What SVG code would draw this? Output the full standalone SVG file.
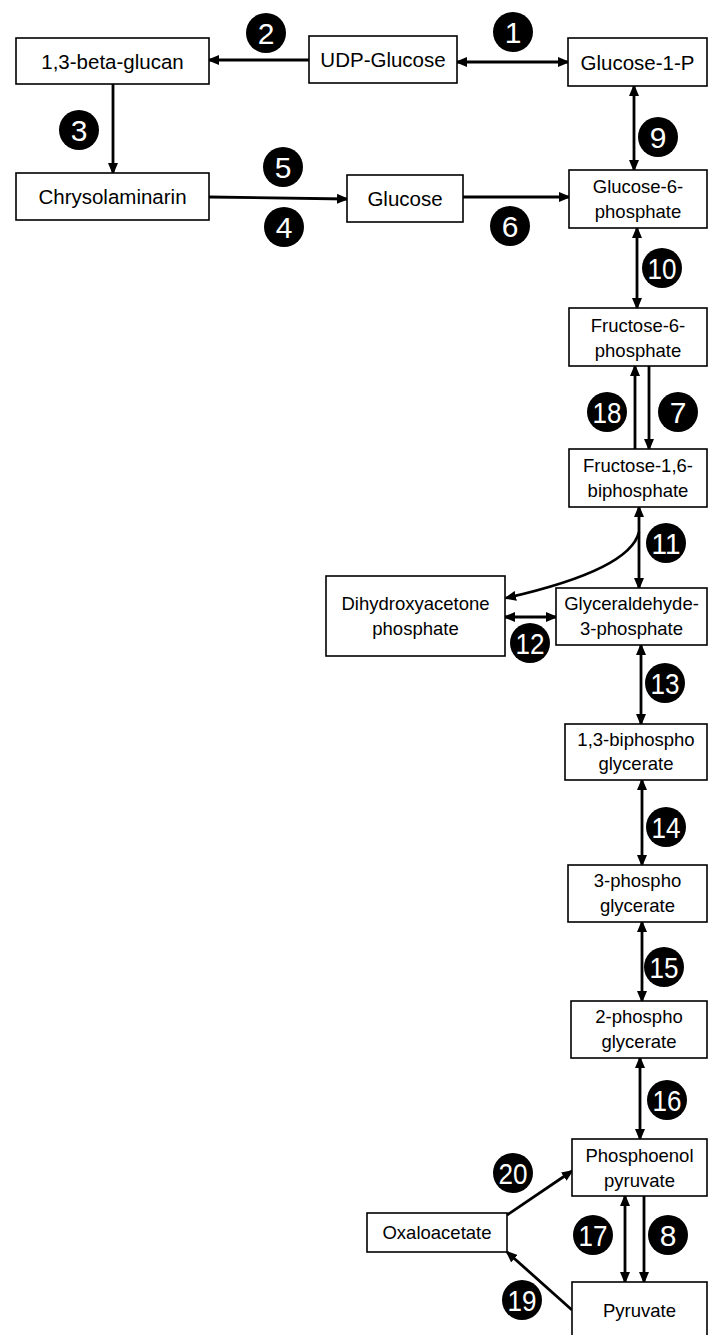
<svg xmlns="http://www.w3.org/2000/svg" width="708" height="1335" viewBox="0 0 708 1335">
<defs>
<style>
.box{fill:#fff;stroke:#000;stroke-width:1.6}
.t1{font-family:"Liberation Sans",Arial,sans-serif;font-size:20.5px;fill:#000;text-anchor:middle}
.t2{font-family:"Liberation Sans",Arial,sans-serif;font-size:18.5px;fill:#000;text-anchor:middle}
.badge circle{fill:#000}
.badge text{font-family:"Liberation Sans",Arial,sans-serif;font-size:30px;fill:#fff;text-anchor:middle}
.c{fill:none;stroke:#000;stroke-width:2.8}
.e{marker-end:url(#ah)}
.d{marker-end:url(#ah);marker-start:url(#ah)}
</style>
<marker id="ah" markerUnits="userSpaceOnUse" markerWidth="12" markerHeight="10" refX="10" refY="5" orient="auto-start-reverse" viewBox="0 0 12 10">
<path d="M0,0 L12,5 L0,10 z" fill="#000"/>
</marker>
</defs>
<rect width="708" height="1335" fill="#fff"/>

<g id="connectors">
<line class="c d" x1="457" y1="62" x2="568" y2="62"/>
<line class="c e" x1="309" y1="60" x2="209" y2="60"/>
<line class="c e" x1="113" y1="84" x2="113" y2="173"/>
<line class="c e" x1="209" y1="197" x2="347" y2="199"/>
<line class="c e" x1="463" y1="197" x2="569" y2="197"/>
<line class="c d" x1="634" y1="86" x2="634" y2="170"/>
<line class="c d" x1="637" y1="228" x2="637" y2="308"/>
<line class="c e" x1="635" y1="449" x2="635" y2="366"/>
<line class="c e" x1="649" y1="366" x2="649" y2="449"/>
<line class="c d" x1="639" y1="507" x2="639" y2="588"/>
<path class="c e" d="M639,532 Q630,570 506,598"/>
<line class="c d" x1="505" y1="617" x2="556" y2="617"/>
<line class="c d" x1="641" y1="645" x2="641" y2="724"/>
<line class="c d" x1="642" y1="780" x2="642" y2="865"/>
<line class="c d" x1="642" y1="922" x2="642" y2="1001"/>
<line class="c d" x1="640" y1="1058" x2="640" y2="1139"/>
<line class="c e" x1="507" y1="1215" x2="572" y2="1171"/>
<line class="c d" x1="625" y1="1196" x2="625" y2="1282"/>
<line class="c e" x1="644" y1="1196" x2="644" y2="1282"/>
<line class="c e" x1="572" y1="1310" x2="507" y2="1252"/>
</g>

<g id="n-betaglucan"><rect class="box" x="16" y="38" width="193" height="46"/><text class="t1" x="112.5" y="69">1,3-beta-glucan</text></g>
<g id="n-udpglucose"><rect class="box" x="309" y="36" width="148" height="47"/><text class="t1" x="383" y="67">UDP-Glucose</text></g>
<g id="n-g1p"><rect class="box" x="568" y="38" width="139" height="48"/><text class="t1" x="637.5" y="70">Glucose-1-P</text></g>
<g id="n-chryso"><rect class="box" x="16" y="173" width="193" height="47"/><text class="t1" x="112.5" y="204">Chrysolaminarin</text></g>
<g id="n-glucose"><rect class="box" x="347" y="175" width="116" height="47"/><text class="t1" x="405" y="206">Glucose</text></g>
<g id="n-g6p"><rect class="box" x="569" y="170" width="138" height="58"/><text class="t2" x="638" y="193">Glucose-6-</text><text class="t2" x="638" y="218">phosphate</text></g>
<g id="n-f6p"><rect class="box" x="569" y="308" width="138" height="58"/><text class="t2" x="638" y="332">Fructose-6-</text><text class="t2" x="638" y="357">phosphate</text></g>
<g id="n-f16bp"><rect class="box" x="569" y="449" width="138" height="58"/><text class="t2" x="638" y="472">Fructose-1,6-</text><text class="t2" x="638" y="497">biphosphate</text></g>
<g id="n-dhap"><rect class="box" x="326" y="576" width="179" height="80"/><text class="t2" x="415.5" y="610">Dihydroxyacetone</text><text class="t2" x="415.5" y="635">phosphate</text></g>
<g id="n-g3p"><rect class="box" x="556" y="588" width="151" height="57"/><text class="t2" x="631.5" y="610">Glyceraldehyde-</text><text class="t2" x="631.5" y="635">3-phosphate</text></g>
<g id="n-13bpg"><rect class="box" x="565" y="724" width="142" height="56"/><text class="t2" x="636" y="746">1,3-biphospho</text><text class="t2" x="636" y="770">glycerate</text></g>
<g id="n-3pg"><rect class="box" x="568" y="865" width="139" height="57"/><text class="t2" x="637.5" y="887">3-phospho</text><text class="t2" x="637.5" y="912">glycerate</text></g>
<g id="n-2pg"><rect class="box" x="571" y="1001" width="136" height="57"/><text class="t2" x="639" y="1023">2-phospho</text><text class="t2" x="639" y="1048">glycerate</text></g>
<g id="n-pep"><rect class="box" x="572" y="1139" width="135" height="57"/><text class="t2" x="639.5" y="1162">Phosphoenol</text><text class="t2" x="639.5" y="1187">pyruvate</text></g>
<g id="n-oaa"><rect class="box" x="367" y="1213" width="140" height="39"/><text class="t2" x="437" y="1239">Oxaloacetate</text></g>
<g id="n-pyruvate"><rect class="box" x="572" y="1282" width="135" height="60"/><text class="t2" x="639.5" y="1317">Pyruvate</text></g>

<g id="badges">
<g class="badge" id="b1"><circle cx="513" cy="32" r="20"/><text x="513" y="43">1</text></g>
<g class="badge" id="b2"><circle cx="266" cy="33" r="20"/><text x="266" y="44">2</text></g>
<g class="badge" id="b3"><circle cx="79" cy="130" r="20"/><text x="79" y="141">3</text></g>
<g class="badge" id="b4"><circle cx="284" cy="227" r="20"/><text x="284" y="238">4</text></g>
<g class="badge" id="b5"><circle cx="283" cy="167" r="20"/><text x="283" y="178">5</text></g>
<g class="badge" id="b6"><circle cx="510" cy="226" r="20"/><text x="510" y="237">6</text></g>
<g class="badge" id="b7"><circle cx="678" cy="412" r="20"/><text x="678" y="423">7</text></g>
<g class="badge" id="b8"><circle cx="668" cy="1235" r="20"/><text x="668" y="1246">8</text></g>
<g class="badge" id="b9"><circle cx="658" cy="137" r="20"/><text x="658" y="148">9</text></g>
<g class="badge" id="b10"><circle cx="662" cy="268" r="20"/><text x="662" y="279" textLength="29" lengthAdjust="spacingAndGlyphs">10</text></g>
<g class="badge" id="b11"><circle cx="666" cy="543" r="20"/><text x="666" y="554" textLength="29" lengthAdjust="spacingAndGlyphs">11</text></g>
<g class="badge" id="b12"><circle cx="530" cy="643" r="20"/><text x="530" y="654" textLength="29" lengthAdjust="spacingAndGlyphs">12</text></g>
<g class="badge" id="b13"><circle cx="665" cy="683" r="20"/><text x="665" y="694" textLength="29" lengthAdjust="spacingAndGlyphs">13</text></g>
<g class="badge" id="b14"><circle cx="666" cy="827" r="20"/><text x="666" y="838" textLength="29" lengthAdjust="spacingAndGlyphs">14</text></g>
<g class="badge" id="b15"><circle cx="664" cy="967" r="20"/><text x="664" y="978" textLength="29" lengthAdjust="spacingAndGlyphs">15</text></g>
<g class="badge" id="b16"><circle cx="667" cy="1100" r="20"/><text x="667" y="1111" textLength="29" lengthAdjust="spacingAndGlyphs">16</text></g>
<g class="badge" id="b17"><circle cx="593" cy="1235" r="20"/><text x="593" y="1246" textLength="29" lengthAdjust="spacingAndGlyphs">17</text></g>
<g class="badge" id="b18"><circle cx="607" cy="412" r="20"/><text x="607" y="423" textLength="29" lengthAdjust="spacingAndGlyphs">18</text></g>
<g class="badge" id="b19"><circle cx="522" cy="1300" r="20"/><text x="522" y="1311" textLength="29" lengthAdjust="spacingAndGlyphs">19</text></g>
<g class="badge" id="b20"><circle cx="513" cy="1173" r="20"/><text x="513" y="1184" textLength="29" lengthAdjust="spacingAndGlyphs">20</text></g>
</g>
</svg>
